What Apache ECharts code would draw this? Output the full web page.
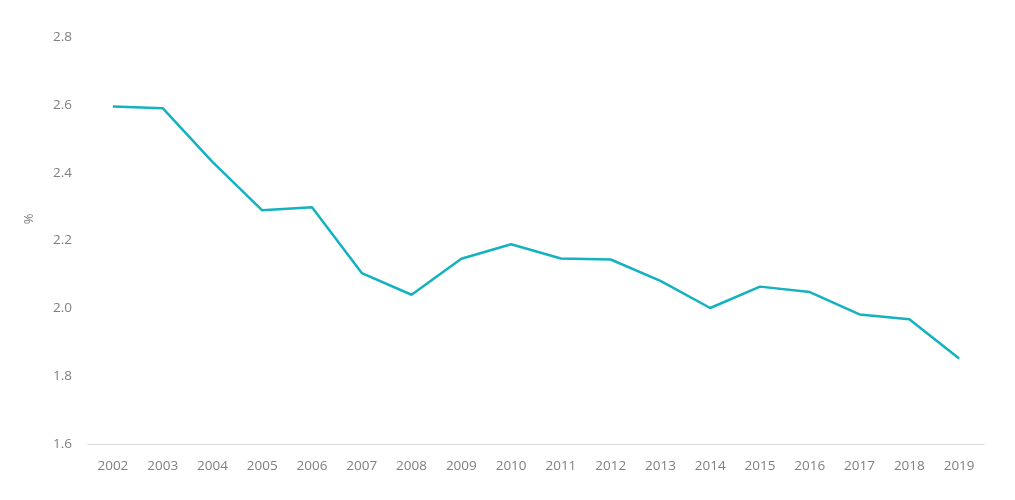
<!DOCTYPE html>
<html>
<head>
<meta charset="utf-8">
<script src="https://cdn.jsdelivr.net/npm/echarts@6/dist/echarts.min.js"></script>
<style>html,body{margin:0;padding:0;background:#fff}#c{width:1015px;height:500px}</style>
</head>
<body>
<div id="c"></div>
<script>
const years = ['2002','2003','2004','2005','2006','2007','2008','2009','2010','2011','2012','2013','2014','2015','2016','2017','2018','2019'];
const values = [2.595,2.590,2.432,2.289,2.298,2.104,2.040,2.146,2.189,2.147,2.144,2.081,2.001,2.064,2.048,1.982,1.968,1.852];
const yName = '%';

const chart = echarts.init(document.getElementById('c'));
const font = '"Open Sans", "Noto Sans", sans-serif';
chart.setOption({
  animation: false,
  grid: {left: 88, right: 31, top: 37, bottom: 56, containLabel: false},
  graphic: [{
    type: 'text',
    x: 29, y: 219,
    rotation: Math.PI / 2,
    style: {text: yName, fill: '#7f7f7f', font: '13px ' + font, align: 'center', verticalAlign: 'middle'}
  }],
  xAxis: {
    type: 'category',
    data: years,
    boundaryGap: true,
    axisLine: {lineStyle: {color: '#d9d9d9', width: 1}},
    axisTick: {show: false},
    axisLabel: {color: '#7f7f7f', fontSize: 13.5, fontFamily: font, margin: 15}
  },
  yAxis: {
    type: 'value',
    min: 1.6, max: 2.8, interval: 0.2,
    axisLine: {show: false},
    axisTick: {show: false},
    splitLine: {show: false},
    axisLabel: {color: '#7f7f7f', fontSize: 13.5, fontFamily: font, margin: 16,
      formatter: v => v.toFixed(1)}
  },
  series: [{
    type: 'line',
    data: values,
    showSymbol: false,
    symbol: 'none',
    lineStyle: {color: '#14b1bf', width: 2.5},
    itemStyle: {color: '#14b1bf'}
  }]
});
</script>
</body>
</html>
